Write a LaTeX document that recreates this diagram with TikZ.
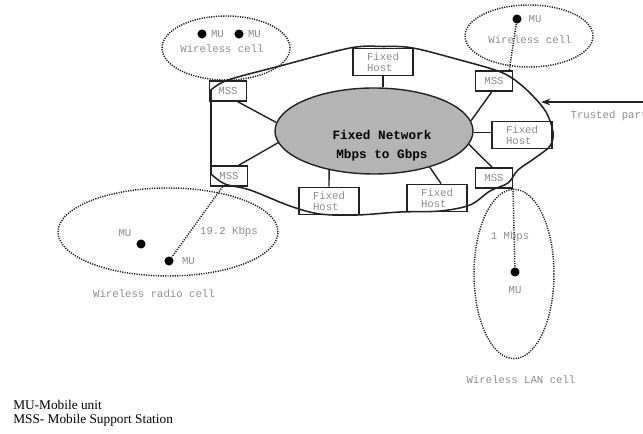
\documentclass[tikz,border=0pt]{standalone}
\usepackage{fontspec}
\setmainfont{Liberation Serif}
\setmonofont{Liberation Mono}
\usepackage{xcolor}
\usetikzlibrary{arrows.meta,positioning,shapes.geometric}

\definecolor{labelgray}{HTML}{8C8C8C}
\definecolor{netfill}{HTML}{B4B4B4}
\definecolor{inkline}{HTML}{222222}

\begin{document}
\begin{tikzpicture}[
  x=0.75pt,y=-0.75pt,
  font=\ttfamily\fontsize{8}{9}\selectfont,
  >=Stealth,
  cell/.style={draw=inkline,ellipse,dash pattern=on 0.9pt off 0.9pt,line width=1.1pt,inner sep=0pt},
  mss/.style={draw=inkline,line width=1pt,minimum width=27.5pt,minimum height=15pt,inner sep=0pt,text=labelgray},
  host/.style={draw=inkline,line width=1pt,minimum width=45pt,minimum height=20.5pt,inner sep=0pt,text=labelgray,align=left,font=\ttfamily\fontsize{8}{8.6}\selectfont},
  mu/.style={circle,fill=black,inner sep=0pt,minimum size=6.8pt},
  note/.style={text=labelgray,inner sep=1pt},
  link/.style={draw=inkline,line width=1.05pt},
  radio/.style={draw=inkline,dash pattern=on 0.9pt off 0.9pt,line width=1.1pt},
]
\useasboundingbox (0,0) rectangle (643,434);

% wireless cells
\node[cell,minimum width=96pt,minimum height=48pt] (cellTL) at (226,48) {};
\node[cell,minimum width=96pt,minimum height=46.5pt] (cellTR) at (529,36) {};
\node[cell,minimum width=165pt,minimum height=66pt] (cellBL) at (168,232) {};
\node[cell,minimum width=60pt,minimum height=127pt] (cellBR) at (514,274) {};

% fixed network
\node[ellipse,draw=inkline,fill=netfill,line width=1.05pt,minimum width=148.5pt,minimum height=64.5pt,inner sep=0pt] (net) at (374,131) {};
\node[font=\ttfamily\bfseries\fontsize{9.5}{14}\selectfont,align=center] (netlabel) at (382,146) {Fixed Network\\Mbps to Gbps};

% outer boundary (trusted part)
\draw[inkline,line width=1.15pt] plot[smooth,tension=0.55] coordinates {
  (211,90) (228,80) (280,66) (350,48) (383,46.5) (413,48) (460,60) (495,70)
  (512,78) (530,93) (546,112) (553,132) (550,146) (535,158) (518,170)
  (508,183) (490,191) (470,205) (440,211) (400,212) (357,215) (320,214)
  (290,206) (250,190) (225,184) (211,174)} -- cycle;

% support stations and hosts
\node[mss] (mssTL) at (228,91) {MSS};
\node[mss] (mssLL) at (229,176) {MSS};
\node[mss] (mssTR) at (494,81) {MSS};
\node[mss] (mssBR) at (494,178) {MSS};
\node[host] (hostT) at (383,62) {Fixed\\Host};
\node[host] (hostR) at (522,135) {Fixed\\Host};
\node[host] (hostBL) at (329,201) {Fixed\\Host};
\node[host] (hostBR) at (437,198) {Fixed\\Host};

% wired links
\draw[link] (mssTL.-48) -- (net.175);
\draw[link] (mssLL.48) -- (net.-173);
\draw[link] (hostBL.north) -- (net.221);
\draw[link] (hostBR.74) -- (net.-33);
\draw[link] (mssBR.100) -- (net.-8);
\draw[link] (net.-1) -- (net.-1 -| hostR.west);
\draw[link] (mssTR.-101) -- (net.6);
\draw[link] (hostT.south) -- (hostT.south |- net.north);

% mobile units
\node[mu] (muTL1) at (202,34) {};
\node[mu] (muTL2) at (239,34) {};
\node[mu] (muTR) at (517,19) {};
\node[mu] (muBL1) at (141,244) {};
\node[mu] (muBL2) at (169,261) {};
\node[mu] (muBR) at (515,272) {};
\node[note,right=2pt of muTL1] (muTL1lab) {MU};
\node[note,right=2pt of muTL2] (muTL2lab) {MU};
\node[note,right=4pt of muTR] (muTRlab) {MU};
\node[note] (muBL1lab) at (125,233) {MU};
\node[note,right=5pt of muBL2] (muBL2lab) {MU};
\node[note,below=6pt of muBR] (muBRlab) {MU};

% radio links
\draw[radio] (muTR) -- (mssTR.35);
\draw[radio] (mssLL.-121) -- (muBL2);
\draw[radio] (mssBR.south east) -- (muBR);

% cell texts
\node[note] (cellTLlab) at (222,49) {Wireless cell};
\node[note] (cellTRlab) at (530,40) {Wireless cell};
\node[note] (rateBL) at (229,232) {19.2 Kbps};
\node[note] (rateBR) at (510,237) {1 Mbps};
\node[note] (cellBLlab) at (154,294) {Wireless radio cell};
\node[note] (cellBRlab) at (521,380) {Wireless LAN cell};

% trusted part
\coordinate (trustsrc) at (645,102);
\coordinate (trusttip) at (541,102);
\draw[inkline,line width=1.1pt,-{Stealth[length=7pt,width=5pt]}] (trustsrc) -- (trusttip);
\node[note,anchor=west] (trustlab) at (569,116) {Trusted party};

% legend
\node[font=\rmfamily\fontsize{10}{10.5}\selectfont,align=left,anchor=west,inner sep=0pt] (legend) at (13,413)
  {MU-Mobile unit\\MSS- Mobile Support Station};
\end{tikzpicture}
\end{document}
